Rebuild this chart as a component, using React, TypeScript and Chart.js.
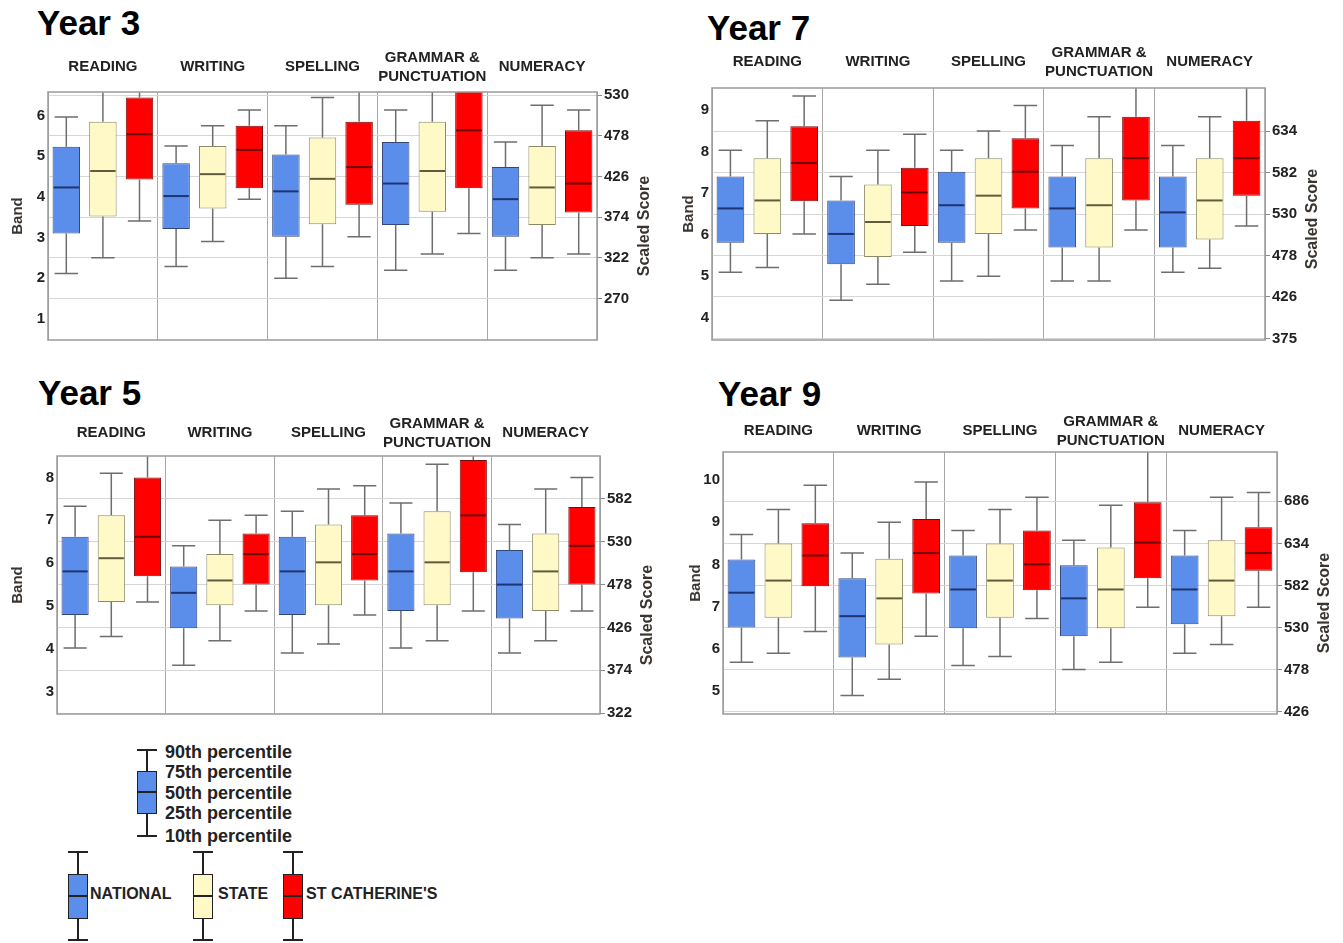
import React, { useEffect, useRef } from "react";
import { Chart, registerables } from "chart.js";

Chart.register(...registerables);

// ---------- data ----------
const categories = ["READING", "WRITING", "SPELLING", "GRAMMAR & PUNCTUATION", "NUMERACY"];
const categoryLines = [["READING"], ["WRITING"], ["SPELLING"], ["GRAMMAR &", "PUNCTUATION"], ["NUMERACY"]];
const seriesNames = ["NATIONAL", "STATE", "ST CATHERINE'S"];
const percentileNames = ["90th percentile", "75th percentile", "50th percentile", "25th percentile", "10th percentile"];

// each entry: [10th, 25th, 50th, 75th, 90th] percentile scaled score
const year3National = [[302, 353, 412, 464, 502], [311, 359, 401, 443, 465], [296, 349, 407, 454, 491], [306, 364, 417, 470, 511], [306, 349, 397, 438, 470]];
const year3State = [[322, 375, 433, 496, 545], [343, 385, 429, 465, 491], [311, 365, 423, 476, 527], [327, 381, 433, 496, 545], [322, 364, 412, 465, 517]];
const year3School = [[369, 422, 480, 527, 560], [397, 411, 460, 491, 511], [349, 390, 438, 496, 550], [353, 411, 485, 540, 580], [327, 380, 417, 485, 511]];

const year7National = [[457, 494, 537, 577, 610], [422, 467, 505, 547, 577], [446, 494, 541, 583, 610], [446, 488, 537, 577, 616], [457, 488, 532, 577, 616]];
const year7State = [[463, 505, 547, 600, 647], [442, 476, 520, 567, 610], [452, 505, 553, 600, 634], [446, 488, 541, 600, 652], [462, 498, 547, 600, 652]];
const year7School = [[505, 546, 594, 640, 678], [482, 515, 557, 588, 630], [510, 537, 583, 625, 666], [510, 547, 600, 652, 700], [515, 553, 600, 647, 700]];

const year5National = [[401, 441, 494, 536, 573], [380, 425, 468, 500, 525], [395, 441, 494, 536, 567], [401, 446, 494, 540, 577], [395, 437, 478, 520, 551]];
const year5State = [[415, 457, 510, 562, 613], [410, 453, 483, 515, 556], [406, 453, 505, 551, 594], [410, 453, 505, 567, 624], [410, 446, 494, 540, 594]];
const year5School = [[457, 488, 536, 608, 660], [446, 478, 515, 540, 562], [441, 483, 515, 562, 598], [446, 493, 562, 629, 660], [446, 478, 525, 572, 608]];

const year9National = [[487, 530, 573, 614, 645], [446, 493, 544, 591, 622], [483, 529, 577, 619, 650], [478, 519, 566, 607, 638], [498, 534, 577, 619, 650]];
const year9State = [[498, 542, 588, 634, 676], [466, 509, 566, 615, 660], [494, 542, 588, 634, 676], [487, 529, 577, 629, 681], [509, 544, 588, 638, 691]];
const year9School = [[525, 581, 619, 659, 706], [519, 572, 622, 664, 710], [541, 576, 608, 650, 691], [555, 591, 635, 685, 760], [555, 600, 622, 654, 697]];

// axis ticks
const year3BandTicks = [244, 296, 348, 400, 452, 504];
const year3BandLabels = ["1", "2", "3", "4", "5", "6"];
const year3ScoreTicks = [270, 322, 374, 426, 478, 530];
const year3ScoreLabels = ["270", "322", "374", "426", "478", "530"];

const year7BandTicks = [400, 452, 504, 556, 608, 660];
const year7BandLabels = ["4", "5", "6", "7", "8", "9"];
const year7ScoreTicks = [374, 426, 478, 530, 582, 634];
const year7ScoreLabels = ["375", "426", "478", "530", "582", "634"];

const year5BandTicks = [348, 400, 452, 504, 556, 608];
const year5BandLabels = ["3", "4", "5", "6", "7", "8"];
const year5ScoreTicks = [322, 374, 426, 478, 530, 582];
const year5ScoreLabels = ["322", "374", "426", "478", "530", "582"];

const year9BandTicks = [452, 504, 556, 608, 660, 712];
const year9BandLabels = ["5", "6", "7", "8", "9", "10"];
const year9ScoreTicks = [426, 478, 530, 582, 634, 686];
const year9ScoreLabels = ["426", "478", "530", "582", "634", "686"];

// ---------- styles ----------
const FONT = "'Liberation Sans', Arial, Helvetica, sans-serif";
const fills = ["#5b8dea", "#fff9c8", "#ff0000"];
const borders = ["#34477a", "#8c8a66", "#7a0a0a"];
const medianColors = ["#1d3570", "#5e5c3c", "#6e0000"];
const whiskerColor = "#6e6e6e";
const textColor = "#222222";

type Panel = {
  key: string;
  title: string;
  series: number[][][];
  min: number;
  max: number;
  bandTicks: number[];
  bandLabels: string[];
  scoreTicks: number[];
  scoreLabels: string[];
  box: { left: number; top: number; width: number; height: number };
  yWidth: number;
  y2Width: number;
  xHeight: number;
  padBottom: number;
  titlePos: { left: number; top: number };
  labelGap: number;
  bandPad: number;
  scaledDy: number;
};

const panels: Panel[] = [
  {
    key: "y3", title: "Year 3", series: [year3National, year3State, year3School], min: 217, max: 534,
    bandTicks: year3BandTicks, bandLabels: year3BandLabels, scoreTicks: year3ScoreTicks, scoreLabels: year3ScoreLabels,
    box: { left: 0, top: 40, width: 670, height: 312 }, yWidth: 48, y2Width: 73, xHeight: 52, padBottom: 6,
    titlePos: { left: 37, top: 5 }, labelGap: 25, bandPad: 9, scaledDy: 10,
  },
  {
    key: "y7", title: "Year 7", series: [year7National, year7State, year7School], min: 372, max: 688,
    bandTicks: year7BandTicks, bandLabels: year7BandLabels, scoreTicks: year7ScoreTicks, scoreLabels: year7ScoreLabels,
    box: { left: 672, top: 40, width: 671, height: 312 }, yWidth: 40, y2Width: 78, xHeight: 48, padBottom: 7,
    titlePos: { left: 707, top: 10 }, labelGap: 26, bandPad: 8, scaledDy: 5,
  },
  {
    key: "y5", title: "Year 5", series: [year5National, year5State, year5School], min: 321, max: 634,
    bandTicks: year5BandTicks, bandLabels: year5BandLabels, scoreTicks: year5ScoreTicks, scoreLabels: year5ScoreLabels,
    box: { left: 0, top: 410, width: 670, height: 316 }, yWidth: 57, y2Width: 70, xHeight: 46, padBottom: 8,
    titlePos: { left: 38, top: 375 }, labelGap: 23, bandPad: 9, scaledDy: 30,
  },
  {
    key: "y9", title: "Year 9", series: [year9National, year9State, year9School], min: 423, max: 747,
    bandTicks: year9BandTicks, bandLabels: year9BandLabels, scoreTicks: year9ScoreTicks, scoreLabels: year9ScoreLabels,
    box: { left: 672, top: 410, width: 671, height: 316 }, yWidth: 51, y2Width: 66, xHeight: 42, padBottom: 8,
    titlePos: { left: 718, top: 376 }, labelGap: 21, bandPad: 15, scaledDy: 20,
  },
];

function makePlugin(panel: Panel) {
  return {
    id: "boxplot_" + panel.key,
    afterDatasetsDraw(chart: any) {
      const { ctx, chartArea: a } = chart;
      const yScale = chart.scales.y;
      ctx.save();
      ctx.beginPath();
      ctx.rect(a.left, a.top, a.right - a.left, a.bottom - a.top);
      ctx.clip();
      chart.data.datasets.forEach((ds: any, di: number) => {
        const meta = chart.getDatasetMeta(di);
        meta.data.forEach((bar: any, i: number) => {
          const [p10, q1, med, q3, p90] = ds.stats[i];
          const w = bar.width;
          const x = bar.x;
          const cap = w * 0.85;
          const py = (v: number) => yScale.getPixelForValue(v);
          ctx.strokeStyle = whiskerColor;
          ctx.lineWidth = 1.5;
          ctx.beginPath();
          ctx.moveTo(x, py(q3));
          ctx.lineTo(x, py(p90));
          ctx.moveTo(x - cap / 2, py(p90));
          ctx.lineTo(x + cap / 2, py(p90));
          ctx.moveTo(x, py(q1));
          ctx.lineTo(x, py(p10));
          ctx.moveTo(x - cap / 2, py(p10));
          ctx.lineTo(x + cap / 2, py(p10));
          ctx.stroke();
          ctx.strokeStyle = ds.medianColor;
          ctx.lineWidth = 2;
          ctx.beginPath();
          ctx.moveTo(x - w / 2 + 1, py(med));
          ctx.lineTo(x + w / 2 - 1, py(med));
          ctx.stroke();
        });
      });
      ctx.restore();
    },
    afterDraw(chart: any) {
      const { ctx, chartArea: a } = chart;
      const xScale = chart.scales.x;
      ctx.save();
      // frame
      ctx.strokeStyle = "#9a9a9a";
      ctx.lineWidth = 1.5;
      ctx.strokeRect(a.left, a.top, a.right - a.left, a.bottom - a.top);
      // category labels
      ctx.fillStyle = textColor;
      ctx.font = `bold 15px ${FONT}`;
      ctx.textAlign = "center";
      ctx.textBaseline = "middle";
      categoryLines.forEach((lines, i) => {
        const x = xScale.getPixelForValue(i);
        const yc = a.top - panel.labelGap;
        if (lines.length === 1) {
          ctx.fillText(lines[0], x, yc);
        } else {
          ctx.fillText(lines[0], x, yc - 9.5);
          ctx.fillText(lines[1], x, yc + 9.5);
        }
      });
      // right axis title
      ctx.font = `bold 16px ${FONT}`;
      ctx.fillStyle = "#3a3530";
      ctx.translate(a.right + 48, (a.top + a.bottom) / 2 + panel.scaledDy);
      ctx.rotate(-Math.PI / 2);
      ctx.fillText("Scaled Score", 0, 0);
      ctx.restore();
    },
  };
}

function PanelChart({ panel }: { panel: Panel }) {
  const ref = useRef<HTMLCanvasElement | null>(null);
  useEffect(() => {
    if (!ref.current) return;
    const datasets = panel.series.map((s, si) => ({
      label: seriesNames[si],
      data: s.map((t) => [t[1], t[3]]),
      stats: s,
      medianColor: medianColors[si],
      backgroundColor: fills[si],
      borderColor: borders[si],
      borderWidth: 1,
      borderSkipped: false,
      barPercentage: 0.75,
      categoryPercentage: 1.0,
    }));
    const tickFont = { family: FONT, size: 15, weight: "bold" as const };
    const chart = new Chart(ref.current, {
      type: "bar",
      data: { labels: categories, datasets: datasets as any },
      options: {
        animation: false,
        responsive: false,
        events: [],
        layout: { padding: { top: 0, left: 0, right: 0, bottom: panel.padBottom } },
        plugins: { legend: { display: false }, tooltip: { enabled: false }, title: { display: false } },
        scales: {
          x: {
            position: "top",
            offset: true,
            grid: { offset: true, color: "#a8a8a8", lineWidth: 1, drawTicks: false },
            border: { display: false },
            ticks: { display: false },
            afterFit: (s: any) => { s.height = panel.xHeight; },
          },
          y: {
            position: "left",
            min: panel.min,
            max: panel.max,
            grid: { display: false, drawTicks: false },
            border: { display: false },
            afterBuildTicks: (s: any) => { s.ticks = panel.bandTicks.map((v) => ({ value: v })); },
            ticks: {
              autoSkip: false,
              padding: 3,
              font: tickFont,
              color: textColor,
              callback: (_v: any, i: number) => panel.bandLabels[i],
            },
            title: {
              display: true,
              text: "Band",
              color: "#3a3530",
              font: { family: FONT, size: 15, weight: "bold" },
              padding: { top: panel.bandPad, bottom: 0 },
            },
            afterFit: (s: any) => { s.width = panel.yWidth; },
          },
          y2: {
            position: "right",
            min: panel.min,
            max: panel.max,
            grid: { color: "#d6d6d6", lineWidth: 1, drawTicks: true, tickLength: 5, tickColor: "#8a8a8a" },
            border: { display: false },
            afterBuildTicks: (s: any) => { s.ticks = panel.scoreTicks.map((v) => ({ value: v })); },
            ticks: {
              autoSkip: false,
              padding: 2,
              font: tickFont,
              color: textColor,
              callback: (_v: any, i: number) => panel.scoreLabels[i],
            },
            afterFit: (s: any) => { s.width = panel.y2Width; },
          },
        },
      } as any,
      plugins: [makePlugin(panel)],
    });
    return () => chart.destroy();
  }, [panel]);
  return (
    <>
      <div
        style={{
          position: "absolute",
          left: panel.titlePos.left,
          top: panel.titlePos.top,
          font: `bold 35px ${FONT}`,
          lineHeight: "35px",
          color: "#000",
          whiteSpace: "nowrap",
        }}
      >
        {panel.title}
      </div>
      <canvas
        ref={ref}
        width={panel.box.width}
        height={panel.box.height}
        style={{
          position: "absolute",
          left: panel.box.left,
          top: panel.box.top,
          width: panel.box.width,
          height: panel.box.height,
        }}
      />
    </>
  );
}

function LegendGlyph({ left, width, capTop, boxTop, median, boxBottom, capBottom, fill, border, medianColor }: any) {
  const cx = left + width / 2;
  const line = "#222";
  return (
    <>
      <div style={{ position: "absolute", left: left, top: capTop - 1, width: width, height: 2, background: line }} />
      <div style={{ position: "absolute", left: cx - 1, top: capTop, width: 2, height: boxTop - capTop, background: line }} />
      <div
        style={{
          position: "absolute",
          left: left,
          top: boxTop,
          width: width - 2,
          height: boxBottom - boxTop - 2,
          background: fill,
          border: `1px solid ${border}`,
        }}
      />
      <div style={{ position: "absolute", left: left + 1, top: median - 1, width: width - 2, height: 2, background: medianColor }} />
      <div style={{ position: "absolute", left: cx - 1, top: boxBottom, width: 2, height: capBottom - boxBottom, background: line }} />
      <div style={{ position: "absolute", left: left, top: capBottom - 1, width: width, height: 2, background: line }} />
    </>
  );
}

function Legend() {
  const percentileY = [752, 772, 793, 813, 836];
  const seriesX = [68, 193, 283];
  const seriesTextX = [90, 218, 306];
  return (
    <>
      <LegendGlyph left={137} width={20} capTop={750} boxTop={771} median={792} boxBottom={814} capBottom={836}
        fill={fills[0]} border="#222" medianColor="#222" />
      {percentileNames.map((t, i) => (
        <div key={t} style={{ position: "absolute", left: 165, top: percentileY[i] - 10, font: `bold 18px ${FONT}`, lineHeight: "20px", color: textColor, whiteSpace: "nowrap" }}>
          {t}
        </div>
      ))}
      {seriesNames.map((n, i) => (
        <React.Fragment key={n}>
          <LegendGlyph left={seriesX[i]} width={20} capTop={852} boxTop={874} median={896} boxBottom={919} capBottom={940}
            fill={fills[i]} border="#222" medianColor="#222" />
          <div style={{ position: "absolute", left: seriesTextX[i], top: 884, font: `bold 16px ${FONT}`, lineHeight: "20px", color: textColor, whiteSpace: "nowrap" }}>
            {n}
          </div>
        </React.Fragment>
      ))}
    </>
  );
}

export default function App() {
  return (
    <div style={{ position: "absolute", left: 0, top: 0, width: 1343, height: 943, background: "#fff", overflow: "hidden" }}>
      {panels.map((p) => (
        <PanelChart key={p.key} panel={p} />
      ))}
      <Legend />
    </div>
  );
}
